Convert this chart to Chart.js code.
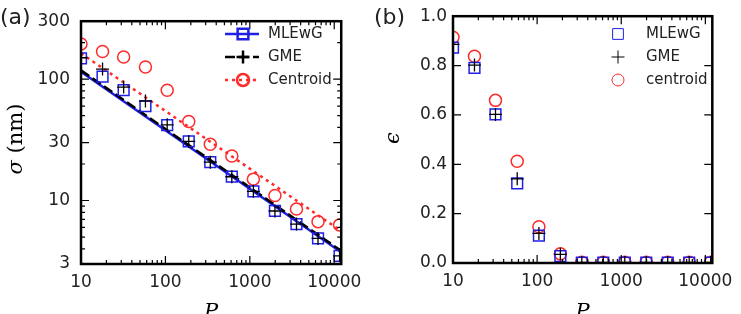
<!DOCTYPE html>
<html>
<head>
<meta charset="utf-8">
<script src="https://cdn.jsdelivr.net/npm/chart.js@4.4.1/dist/chart.umd.min.js"></script>
<style>
  body { margin: 0; background: #fff; }
  #wrap { position: relative; width: 741px; height: 314px; }
  canvas { position: absolute; top: 0; }
</style>
</head>
<body>
<div id="wrap">
  <canvas id="chartA" width="370" height="314" style="left:0"></canvas>
  <canvas id="chartB" width="371" height="314" style="left:370px"></canvas>
</div>
<script>
// photon counts P, same for both panels
const photons = [10, 18, 32, 58, 105, 189, 340, 612, 1102, 1984, 3570, 6427, 11568];

// (a) sigma in nm
const sigmaMLEwG    = [148, 105, 81, 60, 41.8, 30.7, 20.7, 15.7, 11.9, 8.2, 6.4, 4.87, 3.5];
const sigmaGME      = [150, 121, 86, 66, 42, 30.7, 20.7, 15.7, 11.9, 8.2, 6.4, 4.87, 3.5];
const sigmaCentroid = [195, 169, 152, 126, 81, 44.8, 29.1, 23.3, 15, 11, 8.5, 6.7, 6.3];

// (a) fit lines, two ends
const fitPhotons  = [10, 12100];
const fitMLEwG    = [115, 3.75];
const fitGME      = [118, 3.85];
const fitCentroid = [163, 5.6];

// (b) epsilon
const epsMLEwG    = [0.873, 0.791, 0.602, 0.323, 0.111, 0.028, 0.002, 0.002, 0.002, 0.002, 0.002, 0.002, 0.002];
const epsGME      = [0.886, 0.802, 0.602, 0.341, 0.12, 0.035, 0.002, 0.002, 0.002, 0.002, 0.002, 0.002, 0.002];
const epsCentroid = [0.915, 0.838, 0.659, 0.412, 0.147, 0.037, 0.003, 0.003, 0.003, 0.003, 0.003, 0.003, 0.003];

// tick labels
const pLabels     = [10, 100, 1000, 10000];
const sigmaLabels = [3, 10, 30, 100, 300];
const epsLabels   = [0, 0.2, 0.4, 0.6, 0.8, 1.0];

const BLUE = '#1f1fe6', RED = '#ff2a2a', BLACK = '#000';
const tickFont = {family: 'DejaVu Sans', size: 17};

function pts(xs, ys) { return xs.map((x, i) => ({x: x, y: ys[i]})); }

function logTicks(lo, hi) {
  var out = [];
  for (var e = Math.floor(Math.log10(lo)); e <= Math.ceil(Math.log10(hi)); e++)
    for (var m = 1; m < 10; m++) {
      var v = m * Math.pow(10, e);
      if (v >= lo && v <= hi) out.push(v);
    }
  return out;
}

// frame + inward ticks on all four sides
const frameTicks = {
  id: 'frameTicks',
  afterDatasetsDraw(chart, args, o) {
    const {ctx, chartArea: a} = chart;
    const xs = chart.scales.x, ys = chart.scales.y;
    ctx.save();
    ctx.strokeStyle = '#000';
    ctx.lineWidth = 1.2;
    ctx.beginPath();
    o.xTicks.forEach(v => {
      const len = o.xMajor.includes(v) ? 8 : 4;
      const px = xs.getPixelForValue(v);
      ctx.moveTo(px, a.bottom); ctx.lineTo(px, a.bottom - len);
      ctx.moveTo(px, a.top); ctx.lineTo(px, a.top + len);
    });
    o.yTicks.forEach(v => {
      const len = o.yMajor.includes(v) ? 8 : 4;
      const py = ys.getPixelForValue(v);
      ctx.moveTo(a.left, py); ctx.lineTo(a.left + len, py);
      ctx.moveTo(a.right, py); ctx.lineTo(a.right - len, py);
    });
    ctx.stroke();
    ctx.lineWidth = 2.5;
    ctx.strokeRect(a.left, a.top, a.width, a.height);
    ctx.restore();
  }
};

// legend inside the plot, built from the datasets' own styles
const legendBox = {
  id: 'legendBox',
  afterDraw(chart, args, o) {
    const ctx = chart.ctx;
    ctx.save();
    o.items.forEach((it, i) => {
      const ds = chart.data.datasets[it.points];
      const y = o.y0 + i * o.dy;
      if (it.line !== undefined) {
        const ln = chart.data.datasets[it.line];
        ctx.strokeStyle = ln.borderColor;
        ctx.lineWidth = ln.borderWidth;
        ctx.setLineDash(ln.borderDash || []);
        ctx.beginPath();
        ctx.moveTo(o.lineX0, y); ctx.lineTo(o.lineX1, y);
        ctx.stroke();
        ctx.setLineDash([]);
      }
      ctx.strokeStyle = ds.borderColor;
      ctx.fillStyle = 'rgba(0,0,0,0)';
      Chart.helpers.drawPoint(ctx, {pointStyle: ds.pointStyle, radius: ds.pointRadius, rotation: 0, borderWidth: ds.borderWidth}, o.markerX, y);
      ctx.fillStyle = '#222';
      ctx.font = '15px "DejaVu Sans"';
      ctx.textAlign = 'left';
      ctx.textBaseline = 'middle';
      ctx.fillText(ds.label, o.textX, y);
    });
    ctx.restore();
  }
};

// panel letter and rotated y title (mixed italic / upright)
const panelText = {
  id: 'panelText',
  afterDraw(chart, args, o) {
    const ctx = chart.ctx;
    ctx.save();
    ctx.fillStyle = '#222';
    ctx.textBaseline = 'middle';
    ctx.textAlign = 'left';
    ctx.font = '22px "DejaVu Sans"';
    ctx.fillText(o.letter, o.letterX, o.letterY);
    if (o.title) {
      ctx.translate(o.title.x, o.title.y);
      ctx.rotate(-Math.PI / 2);
      let w = 0;
      o.title.parts.forEach(p => { ctx.font = p.font; w += ctx.measureText(p.t).width; });
      let x = -w / 2;
      ctx.fillStyle = '#000';
      o.title.parts.forEach(p => { ctx.font = p.font; ctx.fillText(p.t, x, 0); x += ctx.measureText(p.t).width; });
    }
    ctx.restore();
  }
};

function xAxis(height) {
  return {
    type: 'logarithmic', min: 10, max: 12100,
    grid: {display: false, drawTicks: false}, border: {display: false},
    afterBuildTicks: s => { s.ticks = pLabels.map(v => ({value: v})); },
    afterFit: s => { s.height = height; },
    ticks: {autoSkip: false, maxRotation: 0, padding: 8, color: '#222', font: tickFont, callback: v => String(v)},
    title: {display: true, text: 'P', color: '#000', font: {family: 'DejaVu Serif', style: 'italic', size: 21, lineHeight: 1}, padding: {top: 0, bottom: -9}}
  };
}

const markerSets = (mle, gme, cen, cenLabel) => [
  {label: 'GME', data: pts(photons, gme), pointStyle: 'cross', pointRadius: 6.5, borderColor: BLACK, backgroundColor: 'rgba(0,0,0,0)', borderWidth: 1.3, clip: 0},
  {label: 'MLEwG', data: pts(photons, mle), pointStyle: 'rect', pointRadius: 7.6, borderColor: BLUE, backgroundColor: 'rgba(0,0,0,0)', borderWidth: 1.5, clip: 0},
  {label: cenLabel, data: pts(photons, cen), pointStyle: 'circle', pointRadius: 6, borderColor: RED, backgroundColor: 'rgba(0,0,0,0)', borderWidth: 1.5, clip: 0}
];

// ---- panel (a) ----
new Chart(document.getElementById('chartA'), {
  type: 'scatter',
  data: {
    datasets: markerSets(sigmaMLEwG, sigmaGME, sigmaCentroid, 'Centroid').concat([
      {data: pts(fitPhotons, fitGME), showLine: true, pointRadius: 0, borderColor: BLACK, borderWidth: 2.5, borderDash: [10, 4], clip: 0},
      {data: pts(fitPhotons, fitMLEwG), showLine: true, pointRadius: 0, borderColor: BLUE, borderWidth: 2.5, clip: 0},
      {data: pts(fitPhotons, fitCentroid), showLine: true, pointRadius: 0, borderColor: RED, borderWidth: 2.5, borderDash: [3, 4], clip: 0}
    ])
  },
  options: {
    responsive: false, animation: false,
    layout: {padding: {top: 14, right: 27, left: 0, bottom: 0}},
    plugins: {
      legend: {display: false}, tooltip: {enabled: false},
      frameTicks: {xTicks: logTicks(10, 12100), xMajor: pLabels, yTicks: logTicks(3, 300), yMajor: sigmaLabels},
      legendBox: {items: [{points: 1, line: 4}, {points: 0, line: 3}, {points: 2, line: 5}],
                  lineX0: 225, lineX1: 259, markerX: 243, textX: 268, y0: 34, dy: 23},
      panelText: {letter: '(a)', letterX: 0, letterY: 18,
                  title: {x: 17, y: 139, parts: [{t: 'σ', font: 'italic 21px "DejaVu Serif"'}, {t: ' (nm)', font: '21px "DejaVu Serif"'}]}}
    },
    scales: {
      x: xAxis(50),
      y: {
        type: 'logarithmic', min: 3, max: 300,
        grid: {display: false, drawTicks: false}, border: {display: false},
        afterBuildTicks: s => { s.ticks = sigmaLabels.map(v => ({value: v})); },
        afterFit: s => { s.width = 81; },
        ticks: {autoSkip: false, padding: 11, color: '#222', font: tickFont, callback: v => String(v)}
      }
    }
  },
  plugins: [frameTicks, legendBox, panelText]
});

// ---- panel (b) ----
new Chart(document.getElementById('chartB'), {
  type: 'scatter',
  data: {datasets: markerSets(epsMLEwG, epsGME, epsCentroid, 'centroid')},
  options: {
    responsive: false, animation: false,
    layout: {padding: {top: 14, right: 23, left: 0, bottom: 0}},
    plugins: {
      legend: {display: false}, tooltip: {enabled: false},
      frameTicks: {xTicks: logTicks(10, 12100), xMajor: pLabels, yTicks: epsLabels, yMajor: epsLabels},
      legendBox: {items: [{points: 1}, {points: 0}, {points: 2}], markerX: 248, textX: 276, y0: 34, dy: 23},
      panelText: {letter: '(b)', letterX: 4, letterY: 18,
                  title: {x: 24, y: 138, parts: [{t: 'ϵ', font: 'italic 21px "DejaVu Serif"'}]}}
    },
    scales: {
      x: xAxis(51),
      y: {
        type: 'linear', min: 0, max: 1,
        grid: {display: false, drawTicks: false}, border: {display: false},
        afterBuildTicks: s => { s.ticks = epsLabels.map(v => ({value: v})); },
        afterFit: s => { s.width = 83; },
        ticks: {autoSkip: false, padding: 6, color: '#222', font: tickFont, callback: v => v.toFixed(1)}
      }
    }
  },
  plugins: [frameTicks, legendBox, panelText]
});
</script>
</body>
</html>
